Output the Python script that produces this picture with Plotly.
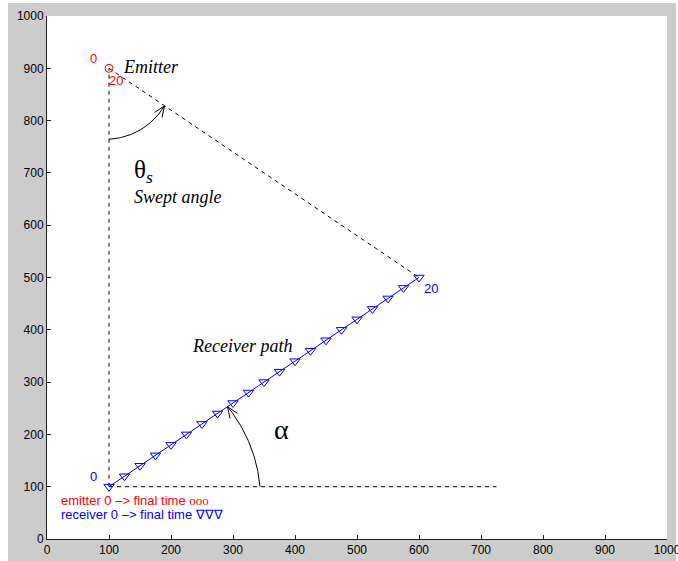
import numpy as np
import plotly.graph_objects as go

# --- data -------------------------------------------------------------
emitter_x = [100]
emitter_y = [900]

receiver_x = [100, 125, 150, 175, 200, 225, 250, 275, 300, 325, 350,
              375, 400, 425, 450, 475, 500, 525, 550, 575, 600]
receiver_y = [100, 120, 140, 160, 180, 200, 220, 240, 260, 280, 300,
              320, 340, 360, 380, 400, 420, 440, 460, 480, 500]

horizon_end_x = 725          # reference line for the angle alpha
tick_vals = list(range(0, 1001, 100))

# --- geometry of the plot area (pixels) --------------------------------
W, H = 678, 561
ML, MR, MT, MB = 47, 11, 16, 22
PW, PH = W - ML - MR, H - MT - MB
SX, SY = 1000 / PW, 1000 / PH      # data units per pixel


def arc(cx, cy, r0, r1, t0, t1, n=60):
    """Arc around a data point, radius given in pixels, angles in degrees."""
    t = np.radians(np.linspace(t0, t1, n))
    r = np.linspace(r0, r1, n)
    xs = cx + r * np.cos(t) * SX
    ys = cy + r * np.sin(t) * SY
    return xs, ys, t[-1]


def arrow_head(xt, yt, t_end, length=12, spread=22):
    """Open V arrowhead at the end of an arc travelling with increasing t."""
    dx, dy = -np.sin(t_end), np.cos(t_end)
    back = np.arctan2(-dy, -dx)
    xs, ys = [], []
    for s in (+1, -1):
        a = back + s * np.radians(spread)
        xs += [xt + length * np.cos(a) * SX, xt, None]
        ys += [yt + length * np.sin(a) * SY, yt, None]
    return xs, ys


fig = go.Figure()

black_dash = dict(color="black", width=1, dash="4px,4px")

# construction lines
fig.add_trace(go.Scatter(x=[receiver_x[0], emitter_x[0]],
                         y=[receiver_y[0], emitter_y[0]],
                         mode="lines", line=black_dash, hoverinfo="skip"))
fig.add_trace(go.Scatter(x=[receiver_x[0], horizon_end_x],
                         y=[receiver_y[0], receiver_y[0]],
                         mode="lines", line=black_dash, hoverinfo="skip"))
fig.add_trace(go.Scatter(x=[emitter_x[0], receiver_x[-1]],
                         y=[emitter_y[0], receiver_y[-1]],
                         mode="lines", line=black_dash, hoverinfo="skip"))

# swept angle arc (theta_s)
diag = np.degrees(np.arctan2((receiver_y[-1] - emitter_y[0]) / SY,
                             (receiver_x[-1] - emitter_x[0]) / SX))
ax_, ay_, te = arc(emitter_x[0], emitter_y[0], 71, 67, -90, diag)
hx, hy = arrow_head(ax_[-1], ay_[-1], te)
fig.add_trace(go.Scatter(x=list(ax_) + [None] + hx, y=list(ay_) + [None] + hy,
                         mode="lines", line=dict(color="black", width=1),
                         hoverinfo="skip"))

# alpha arc
slope = np.degrees(np.arctan2((receiver_y[-1] - receiver_y[0]) / SY,
                              (receiver_x[-1] - receiver_x[0]) / SX))
bx, by, tb = arc(receiver_x[0], receiver_y[0], 151, 143, 0, slope)
hx, hy = arrow_head(bx[-1], by[-1], tb)
fig.add_trace(go.Scatter(x=list(bx) + [None] + hx, y=list(by) + [None] + hy,
                         mode="lines", line=dict(color="black", width=1),
                         hoverinfo="skip"))

# receiver path
fig.add_trace(go.Scatter(x=receiver_x, y=receiver_y, mode="lines+markers",
                         line=dict(color="#0000ff", width=1),
                         marker=dict(symbol="triangle-down-open", size=9,
                                     color="#0000ff", line=dict(width=1)),
                         hoverinfo="skip"))

# emitter
fig.add_trace(go.Scatter(x=emitter_x, y=emitter_y, mode="markers",
                         marker=dict(symbol="circle-open", size=8,
                                     color="#ff0000", line=dict(width=1)),
                         hoverinfo="skip"))

sans = "Liberation Sans, Arial, sans-serif"
serif = "Liberation Serif, Times New Roman, serif"


def label(x, y, text, color="black", size=12, family=sans,
          xanchor="center", yanchor="middle"):
    fig.add_annotation(x=x, y=y, text=text, showarrow=False,
                       xanchor=xanchor, yanchor=yanchor,
                       font=dict(color=color, size=size, family=family))


# time-step labels
label(emitter_x[0] - 16 * SX, emitter_y[0] + 10 * SY, "0", "#ff0000", 13)
label(emitter_x[0] + 7 * SX, emitter_y[0] - 12 * SY, "20", "#ff0000", 13)
label(receiver_x[0] - 16 * SX, receiver_y[0] + 10 * SY, "0", "#0000ff", 13)
label(receiver_x[-1] + 12 * SX, receiver_y[-1] - 11 * SY, "20", "#0000ff", 13)

# descriptive text
label(emitter_x[0] + 12 * SX, emitter_y[0] + 1 * SY, "<i>Emitter</i>",
      size=18, family=serif, xanchor="left")
label(137, 702, "θ<sub><i>s</i></sub>", size=25, family=serif, xanchor="left")
label(137, 653, "<i>Swept angle</i>", size=18, family=serif, xanchor="left")
label(231, 369, "<i>Receiver path</i>", size=18, family=serif, xanchor="left")
label(379, 210, "α", size=28, family=serif)

label(19, 73, "emitter 0 –> final time <span style='font-family:Liberation Serif'>ooo</span>",
      "#ff0000", 13, xanchor="left")
label(19, 47, "receiver 0 –> final time <span style='font-family:Liberation Serif'>∇∇∇</span>",
      "#0000ff", 13, xanchor="left")

# grey figure panel behind a white axes area
fig.add_shape(type="rect", xref="paper", yref="paper",
              x0=(8 - ML) / PW, x1=(676 - ML) / PW,
              y0=-(MB + 2) / PH, y1=1 + (MT - 3) / PH,
              fillcolor="#cccccc", line=dict(width=0), layer="below")
fig.add_shape(type="rect", xref="paper", yref="paper", x0=0, x1=1, y0=0, y1=1,
              fillcolor="white", line=dict(width=0), layer="below")

axis_common = dict(range=[0, 1000], tickvals=tick_vals, ticks="inside",
                   ticklen=4, tickcolor="#222222", showline=True,
                   linecolor="#222222", linewidth=1, showgrid=False,
                   zeroline=False, mirror=False, automargin=False,
                   ticklabeloverflow="allow",
                   tickfont=dict(family=sans, size=12, color="black"))

fig.update_layout(
    width=W, height=H, showlegend=False,
    margin=dict(l=ML, r=MR, t=MT, b=MB),
    paper_bgcolor="white", plot_bgcolor="white",
    xaxis=dict(**axis_common),
    yaxis=dict(**axis_common),
)

fig.write_html("out.html")
